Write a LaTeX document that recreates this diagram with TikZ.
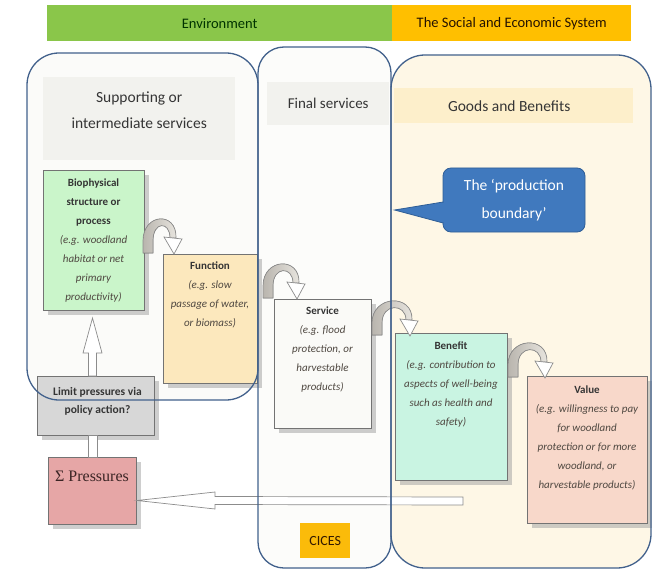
\documentclass[tikz,border=0pt]{standalone}
\usepackage{fontspec}
\setmainfont{Carlito}
\newfontfamily\sigmafont{Liberation Serif}
\usetikzlibrary{calc,shadows}

\definecolor{bannergreen}{HTML}{8AC64A}
\definecolor{bannerorange}{HTML}{FFBF00}
\definecolor{frame}{HTML}{42618C}
\definecolor{leftbg}{HTML}{FBFBF9}
\definecolor{midbg}{HTML}{FCFCFA}
\definecolor{goodsbg}{HTML}{FEF7E6}
\definecolor{goodshead}{HTML}{FDEFCB}
\definecolor{paleband}{HTML}{F2F2EE}
\definecolor{biofill}{HTML}{CAF5CA}
\definecolor{funcfill}{HTML}{FCE8BD}
\definecolor{servfill}{HTML}{FAFAF7}
\definecolor{benfill}{HTML}{C9F4E2}
\definecolor{valfill}{HTML}{F8D8CA}
\definecolor{limitfill}{HTML}{D7D7D7}
\definecolor{pressfill}{HTML}{E6A6A6}
\definecolor{calloutfill}{HTML}{4079BE}
\definecolor{calloutedge}{HTML}{2F5E96}
\definecolor{cicesfill}{HTML}{FBBB0A}
\definecolor{titlegray}{HTML}{353535}
\definecolor{notegray}{HTML}{4F4841}
\definecolor{pressink}{HTML}{3A2424}
\definecolor{banddark}{HTML}{B9B5AE}
\definecolor{bandlight}{HTML}{E8E5DF}

\begin{document}
\begin{tikzpicture}[x=1pt,y=-1pt,
  container/.style={draw=frame, line width=1.3pt, rounded corners=#1},
  card/.style={draw=black!55, line width=0.7pt, anchor=north west, inner sep=0pt, outer sep=0pt,
     drop shadow={shadow xshift=5pt, shadow yshift=-5pt, fill=black!35, opacity=0.55}},
  cardtext/.style={anchor=north, align=center, inner sep=0pt, text=notegray,
     font=\fontsize{11}{19}\selectfont},
  headtext/.style={text=titlegray, font=\fontsize{15.5}{26}\selectfont, align=center, inner sep=0pt},
  hollow/.style={draw=black!45, fill=white, line width=0.7pt, line join=miter},
  bandfill/.style={draw=black!45, line width=0.7pt, left color=banddark, right color=bandlight},
  pics/curvy/.style={code={
     \filldraw[bandfill] (-5,0) -- (-5,-12) .. controls (-5,-40) and (#1+4,-42) .. (#1+3,-15)
        -- (#1-3,-15) .. controls (#1-3,-32) and (5,-32) .. (5,-12) -- (5,0) -- cycle;
     \filldraw[hollow] (#1-9,-16) -- (#1+9,-14) -- (#1+1,1) -- cycle;}},
]
\useasboundingbox (0,0) rectangle (653,572);
\fill[white] (0,0) rectangle (653,572);

% banner
\node[fill=bannergreen, anchor=north west, inner sep=0pt, minimum width=345pt, minimum height=36pt,
      text=black!80!green, font=\fontsize{14.5}{17}\selectfont] (env) at (47,5) {Environment};
\node[fill=bannerorange, anchor=north west, inner sep=0pt, minimum width=239pt, minimum height=36pt,
      text=black!85!orange, font=\fontsize{14.5}{17}\selectfont] (ses) at (392,5) {The Social and Economic System};

% column backgrounds
\fill[leftbg, rounded corners=32pt] (27,53) rectangle (258,400);
\fill[midbg, rounded corners=26pt] (258,47) rectangle (391,568);
\fill[goodsbg, rounded corners=34pt] (391,55) rectangle (651,568);

% column headers
\node[fill=paleband, anchor=north west, inner sep=0pt, minimum width=192pt, minimum height=83pt] (suphead) at (43,77) {};
\node[headtext] (suptext) at ($(suphead.center)+(0,-8.5)$) {Supporting or\\intermediate services};
\node[fill=paleband, anchor=north west, inner sep=0pt, minimum width=122pt, minimum height=43pt,
      text=titlegray, font=\fontsize{15}{18}\selectfont] (finhead) at (267,82) {Final services};
\node[fill=goodshead, anchor=north west, inner sep=0pt, minimum width=239pt, minimum height=35pt,
      text=titlegray, font=\fontsize{15.5}{18}\selectfont] (goodhead) at (394,88) {\hspace*{-9pt}Goods and Benefits};

% boxes of the chain
\node[card, fill=biofill, minimum width=101pt, minimum height=140pt] (bio) at (43,170) {};
\node[card, fill=funcfill, minimum width=94pt, minimum height=129pt] (func) at (163,254) {};
\node[card, fill=servfill, minimum width=97pt, minimum height=129pt] (serv) at (274,299) {};
\node[card, fill=benfill, minimum width=112pt, minimum height=147pt] (ben) at (395,333) {};
\node[card, fill=valfill, minimum width=120pt, minimum height=147pt] (val) at (527,376) {};
\node[card, fill=limitfill, minimum width=117pt, minimum height=59pt] (limit) at (37,376) {};
\node[card, fill=pressfill, minimum width=88pt, minimum height=67pt] (press) at (48,457) {};
\node[fill=cicesfill, anchor=north west, inner sep=0pt, minimum width=50pt, minimum height=35pt,
      text=black!80!orange, font=\fontsize{14}{16}\selectfont] (cices) at (300,523) {CICES};

\node[cardtext] (biotext) at ($(bio.north)+(0,9)$)
  {{\color{titlegray}\bfseries Biophysical}\\{\color{titlegray}\bfseries structure or}\\{\color{titlegray}\bfseries process}\\
   \itshape (e.g. woodland\\\itshape habitat or net\\\itshape primary\\\itshape productivity)};
\node[cardtext] (functext) at ($(func.north)+(0,8)$)
  {{\color{titlegray}\bfseries Function}\\\itshape (e.g. slow\\\itshape passage of water,\\\itshape or biomass)};
\node[cardtext] (servtext) at ($(serv.north)+(0,8)$)
  {{\color{titlegray}\bfseries Service}\\\itshape (e.g. flood\\\itshape protection, or\\\itshape harvestable\\\itshape products)};
\node[cardtext] (bentext) at ($(ben.north)+(0,9)$)
  {{\color{titlegray}\bfseries Benefit}\\\itshape (e.g. contribution to\\\itshape aspects of well-being\\\itshape such as health and\\\itshape safety)};
\node[cardtext] (valtext) at ($(val.north)+(0,10)$)
  {{\color{titlegray}\bfseries Value}\\\itshape (e.g. willingness  to pay\\\itshape for woodland\\\itshape protection or for more\\\itshape woodland, or\\\itshape harvestable products)};
\node[align=center, inner sep=0pt, text=titlegray, font=\bfseries\fontsize{11.5}{18}\selectfont] (limittext)
  at ($(limit.center)+(2,-4)$) {Limit pressures via\\policy action?};
\node[inner sep=0pt, text=pressink, font=\sigmafont\fontsize{16}{18}\selectfont] (presstext)
  at ($(press.north)+(0,19)$) {Σ Pressures};

% curved arrows along the chain
\pic at ($(func.north west)+(-15,-1)$) {curvy=25};
\pic at ($(serv.north west)+(-6,-1)$) {curvy=28};
\pic at ($(ben.north west)+(-18,2)$) {curvy=32};
\pic at ($(val.north west)+(-14,1)$) {curvy=31};

% policy response arrows
\coordinate (uptip) at ($(bio.south)+(-1,8)$);
\filldraw[hollow] (uptip) -- ++(9.5,35) -- ++(-5.5,0) -- ++(0,23) -- ++(-8,0) -- ++(0,-23) -- ++(-5.5,0) -- cycle;
\filldraw[hollow] ($(limit.south)+(-7.5,0)$) rectangle ($(press.north)+(5,0)$);

% feedback from the social and economic system to pressures
\coordinate (fbend) at (463,501);
\coordinate (fbtip) at ($(press.east)+(1,10)$);
\filldraw[hollow] (fbtip) -- ++(78,-8.5) -- ++(0,4.5) -- ($(fbend)+(0,-4)$) -- ($(fbend)+(0,4)$)
   -- ($(fbtip)+(78,4)$) -- ++(0,4.5) -- cycle;

% column outlines
\draw[container=32pt] (27,53) rectangle (258,400);
\draw[container=26pt] (258,47) rectangle (391,568);
\draw[container=34pt] (391,55) rectangle (651,568);

% production boundary callout
\node[fill=calloutfill, draw=calloutedge, line width=0.8pt, rounded corners=8pt, minimum width=142pt,
      minimum height=64pt, inner sep=0pt, text=white, align=center,
      font=\fontsize{15.5}{28}\selectfont] (pb) at (514,200) {The ‘production\\boundary’};
\coordinate (pbtip) at ($(pb.west)+(-48,10)$);
\filldraw[fill=calloutfill, draw=calloutedge, line width=0.8pt] ($(pb.west)+(0.5,2)$) -- (pbtip) -- ($(pb.west)+(0.5,23)$);
\fill[calloutfill] ($(pb.west)+(-0.2,2.6)$) rectangle ($(pb.west)+(1.5,22.2)$);
\end{tikzpicture}
\end{document}
